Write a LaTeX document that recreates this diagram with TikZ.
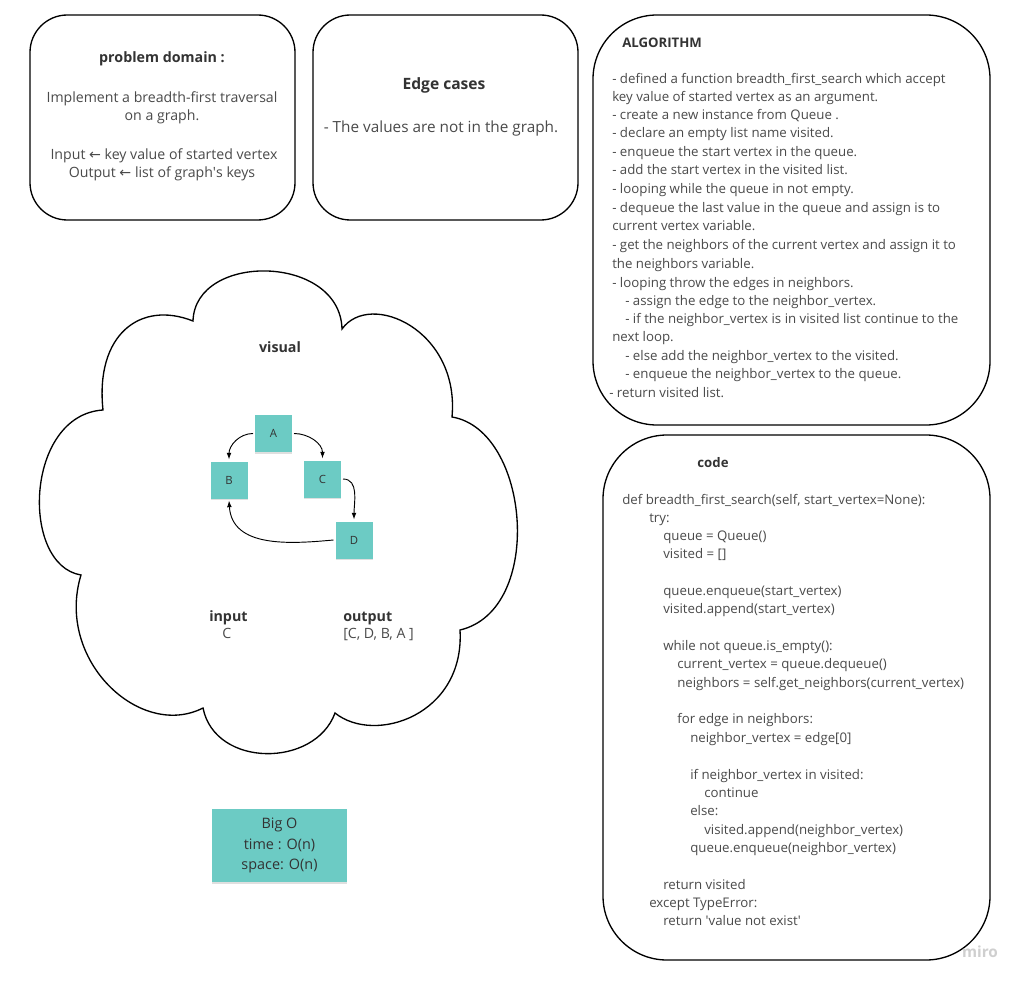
\documentclass[tikz,border=0pt]{standalone}
\usepackage{fontspec}
\setmainfont{Open Sans}
\newfontfamily\arrowfont{DejaVu Sans}
\usetikzlibrary{arrows.meta,shadows}
\definecolor{sticky}{RGB}{108,203,196}
\definecolor{bodytxt}{HTML}{4A4A4A}
\definecolor{headtxt}{HTML}{333333}
\definecolor{wmark}{HTML}{CFCFCF}
\begin{document}
\begin{tikzpicture}[x=0.75pt,y=0.75pt,
  card/.style={draw=black, line width=1pt, rounded corners=28pt},
  bigcard/.style={draw=black, line width=1pt, rounded corners=48pt},
  note/.style={fill=sticky, minimum size=27.75pt, inner sep=0pt, outer sep=1.5pt,
    font=\fontsize{8.5}{10}\selectfont, text=headtxt,
    drop shadow={opacity=0.25, shadow xshift=0pt, shadow yshift=-1.3pt}},
  link/.style={-{Latex[length=5pt,width=3.6pt]}, line width=0.7pt, black},
  body/.style={anchor=base, text=bodytxt, font=\fontsize{10.6}{13}\selectfont, inner sep=0pt},
  head/.style={anchor=base, text=headtxt, font=\bfseries\fontsize{10.7}{13}\selectfont, inner sep=0pt},
  algline/.style={anchor=base west, text=bodytxt, font=\fontsize{9.95}{12}\selectfont, inner sep=0pt},
  codeline/.style={anchor=base west, text=bodytxt, font=\fontsize{9.95}{12}\selectfont, inner sep=0pt}
]
\useasboundingbox (0,0) rectangle (1019,-980);
\fill[white] (0,0) rectangle (1019,-980);

% --- cards ---
\draw[card] (30,-15) rectangle (295,-220);
\draw[card] (313,-15) rectangle (578,-220);
\draw[bigcard] (593,-15) rectangle (990,-425);
\draw[bigcard] (603,-435) rectangle (990,-960);

% --- problem domain ---
\node[head] (pdt) at (162,-63) {problem domain :};
\node[body] (pd1) at (162,-103) {Implement a breadth-first traversal};
\node[body] (pd2) at (162,-121) {on a graph.};
\node[body] (pd3) at (164,-160) {Input {\arrowfont ←} key value of started vertex};
\node[body] (pd4) at (162,-178) {Output {\arrowfont ←} list of graph\textquotesingle s keys};

% --- edge cases ---
\node[head, font=\bfseries\fontsize{11.7}{14}\selectfont] (ect) at (444,-90) {Edge cases};
\node[body, font=\fontsize{11.5}{14}\selectfont] (ec1) at (441,-133) {- The values are not in the graph.};

% --- algorithm ---
\node[algline, font=\bfseries\fontsize{9.9}{12}\selectfont, text=headtxt] (algt) at (622,-48) {ALGORITHM};
\foreach \y/\x/\t [count=\i] in {
  80/612/{- defined a function breadth\_first\_search which accept},
  98/612/{key value of started vertex as an argument.},
  116/612/{- create a new instance from Queue .},
  134/612/{- declare an empty list name visited.},
  153/612/{- enqueue the start vertex in the queue.},
  171/612/{- add the start vertex in the visited list.},
  190/612/{- looping while the queue in not empty.},
  209/612/{- dequeue the last value in the queue and assign is to},
  227/612/{current vertex variable.},
  246/612/{- get the neighbors of the current vertex and assign it to},
  264/612/{the neighbors variable.},
  283/612/{- looping throw the edges in neighbors.},
  301/625/{- assign the edge to the neighbor\_vertex.},
  319/625/{- if the neighbor\_vertex is in visited list continue to the},
  337/612/{next loop.},
  356/625/{- else add the neighbor\_vertex to the visited.},
  374/625/{- enqueue the neighbor\_vertex to the queue.},
  393/609/{- return visited list.}}
  \node[algline] (alg\i) at ({\x},{-\y-4}) {\t};

% --- code ---
\node[head, font=\bfseries\fontsize{9.9}{12}\selectfont] (codet) at (713,-467) {code};
\foreach \y/\x/\t [count=\i] in {
  500/622/{def breadth\_first\_search(self, start\_vertex=None):},
  518/649/{try:},
  536/663/{queue = Queue()},
  554/663/{visited = []},
  591/663/{queue.enqueue(start\_vertex)},
  609/663/{visited.append(start\_vertex)},
  646/663/{while not queue.is\_empty():},
  664/677/{current\_vertex = queue.dequeue()},
  683/677/{neighbors = self.get\_neighbors(current\_vertex)},
  719/677/{for edge in neighbors:},
  738/690/{neighbor\_vertex = edge[0]},
  775/690/{if neighbor\_vertex in visited:},
  793/704/{continue},
  811/690/{else:},
  830/704/{visited.append(neighbor\_vertex)},
  848/690/{queue.enqueue(neighbor\_vertex)},
  885/663/{return visited},
  903/649/{except TypeError:},
  921/663/{return \textquotesingle value not exist\textquotesingle}}
  \node[codeline] (code\i) at ({\x},{-\y-4}) {\t};

% --- cloud ---
\draw[line width=1pt]
  (193,-321) .. controls (195,-252) and (340,-254) .. (342,-329)
  .. controls (370,-290) and (460,-330) .. (452,-417)
  .. controls (530,-430) and (545,-610) .. (460,-630)
  .. controls (465,-715) and (375,-745) .. (335,-713)
  .. controls (315,-768) and (215,-768) .. (203,-708)
  .. controls (140,-740) and (55,-660) .. (81,-575)
  .. controls (20,-565) and (25,-415) .. (103,-410)
  .. controls (95,-335) and (140,-300) .. cycle;

\node[head] (vis) at (280,-352) {visual};

% graph
\node[note] (A) at (273.5,-433.5) {A};
\node[note] (B) at (229,-480) {B};
\node[note] (C) at (322.5,-479) {C};
\node[note] (D) at (354,-540) {D};
\draw[link] (A.west) to[out=180,in=90] (B.north);
\draw[link] (A.east) to[out=0,in=90] (C.north);
\draw[link] (C.east) to[out=0,in=90] (D.north);
\draw[link] (D.west) .. controls (290,-544) and (232,-548) .. (B.south);

\node[head, anchor=base west] (inh) at (209,-621) {input};
\node[body, anchor=base west] (inv) at (222,-638) {C};
\node[head, anchor=base west] (outh) at (343,-621) {output};
\node[body, anchor=base west] (outv) at (343,-638) {[C, D, B, A ]};

% --- big O ---
\node[fill=sticky, minimum width=101.25pt, minimum height=54.75pt, inner sep=0pt,
  align=center, text=headtxt, font=\fontsize{10.8}{15.4}\selectfont,
  drop shadow={opacity=0.25, shadow xshift=0pt, shadow yshift=-1.6pt}]
  (bigo) at (279.5,-845.5) {Big O\\time : O(n)\\space: O(n)};

% watermark
\node[anchor=base, text=wmark, font=\bfseries\fontsize{11.5}{13}\selectfont, inner sep=0pt] (miro) at (980,-957) {miro};
\end{tikzpicture}
\end{document}
